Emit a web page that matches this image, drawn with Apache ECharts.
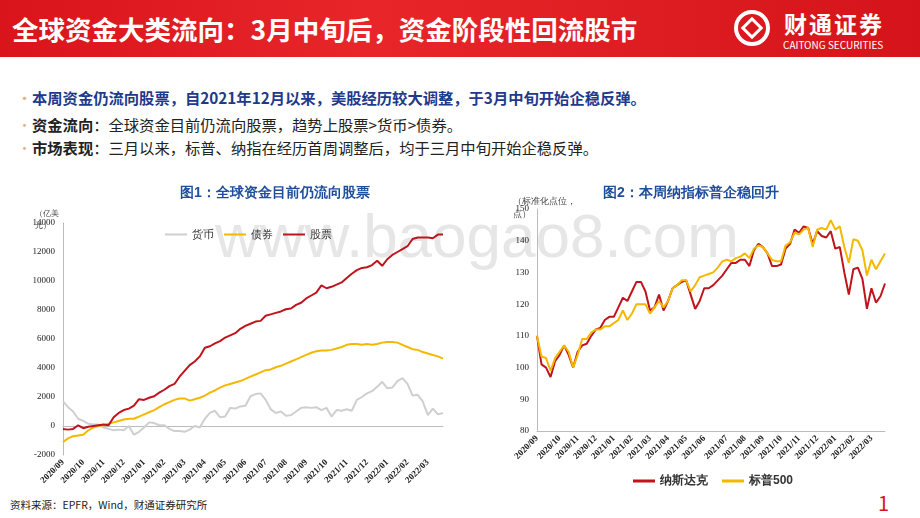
<!DOCTYPE html>
<html><head><meta charset="utf-8">
<script src="https://cdn.jsdelivr.net/npm/echarts@6/dist/echarts.min.js"></script>
<style>
body{margin:0;width:920px;height:518px;overflow:hidden;background:#fff;font-family:"Noto Sans CJK SC",sans-serif;position:relative}
#hdr{position:absolute;left:0;top:0;width:920px;height:57px;background:linear-gradient(90deg,#d9141b,#e8262a 40%,#d4141a)}
#ttl{position:absolute;left:12px;top:9px;color:#fff;font-size:26.5px;font-weight:bold;white-space:nowrap}
#logo{position:absolute;left:732px;top:6px;color:#fff}
.b{position:absolute;left:22px;font-size:15.3px;color:#222;white-space:nowrap}
.b:before{content:"•";color:#e0b080;position:absolute;left:-4px;font-size:13px;top:2px}
.b span{margin-left:10px}
#c{position:absolute;left:0;top:0;width:920px;height:518px}
</style></head><body>
<div id="hdr"><div id="ttl">全球资金大类流向：3月中旬后，资金阶段性回流股市</div>
<div id="logo"><div style="position:absolute;left:2px;top:4px;width:36px;height:36px;border:4px solid #fff;border-radius:50%;box-sizing:border-box"></div>
<div style="position:absolute;left:12px;top:14px;width:16px;height:16px;border:3px solid #fff;transform:rotate(45deg);box-sizing:border-box"></div>
<div style="position:absolute;left:52px;top:0;font-size:23px;font-weight:bold;white-space:nowrap;letter-spacing:2px">财通证券</div>
<div style="position:absolute;left:51px;top:31px;font-size:10px;white-space:nowrap">CAITONG SECURITIES</div></div></div>
<div class="b" style="top:86px;color:#1f3a8a;font-weight:bold"><span>本周资金仍流向股票，自2021年12月以来，美股经历较大调整，于3月中旬开始企稳反弹。</span></div>
<div class="b" style="top:113px"><span><b>资金流向</b>：全球资金目前仍流向股票，趋势上股票>货币>债券。</span></div>
<div class="b" style="top:136px"><span><b>市场表现</b>：三月以来，标普、纳指在经历首周调整后，均于三月中旬开始企稳反弹。</span></div>
<div style="position:absolute;left:10px;top:497px;font-size:10.5px;color:#222">资料来源：EPFR，Wind，财通证券研究所</div>
<div style="position:absolute;left:878px;top:488px;font-size:20px;color:#d9141b">1</div>
<div style="position:absolute;left:215px;top:200px;font-size:62px;color:#e6e6e6;font-family:'Liberation Sans';white-space:nowrap">www.baogao8.com</div>
<div id="c"></div>
<script>
const months=["2020/09","2020/10","2020/11","2020/12","2021/01","2021/02","2021/03","2021/04","2021/05","2021/06","2021/07","2021/08","2021/09","2021/10","2021/11","2021/12","2022/01","2022/02","2022/03"];
const stocks=[-200,-250,-200,50,-150,-50,0,50,100,50,600,900,1100,1200,1400,1850,1800,1950,2050,2300,2500,2750,2900,3400,3800,4200,4450,4800,5400,5500,5700,5850,6100,6250,6400,6700,6900,7050,7200,7250,7600,7700,7800,7900,8050,8100,8350,8500,8800,9000,9200,9700,9500,9600,9750,9900,10200,10500,10750,10900,10950,11100,11400,11050,11500,11800,12000,12200,12400,12900,13000,13000,13000,12950,13200,13200];
const bonds=[-1100,-850,-700,-650,-600,-300,-100,0,50,150,250,350,450,500,500,650,800,950,1100,1300,1500,1650,1800,1900,1900,1750,1850,1950,2100,2300,2450,2650,2800,2900,3000,3100,3250,3400,3550,3700,3850,3900,4050,4150,4300,4450,4600,4750,4900,5050,5150,5200,5200,5250,5350,5450,5600,5650,5650,5600,5650,5600,5650,5750,5800,5800,5750,5600,5450,5300,5250,5100,5000,4900,4800,4650];
const money=[1700,1300,1000,500,350,150,100,100,-100,-200,-300,-250,-300,0,-600,-400,-100,250,200,50,50,-200,-350,-350,-400,-250,0,-100,500,900,1050,600,650,1250,1200,1350,1400,2050,2200,2250,1800,1150,900,1000,700,750,1000,1250,1300,1250,1300,1100,1250,650,1100,1050,1150,1050,1800,2000,2250,2400,2700,3050,2600,2650,3100,3300,2900,2100,2150,1700,750,1200,800,900];
const nasdaq=[110,101,100,97,102,104,107,104,100,105,107,107.5,110,112,112.5,115,116,116,119,122,121,124,127,127,124,118,119,123,118,121,125,126,127,127.5,123,118.5,121,125,125,126,127.5,129,131,133,133,134,134,132,137,139,138,136,132,132,132.5,137.5,139,143.5,142.5,144.5,144,139,143,141.5,141,143,137.5,138,130,123,131,131.5,128,118.5,125,120.5,122.5,126.5];
const sp500=[110,103.5,103,99,103,105,107,105,100,104,109,109,111,112,112,113,113,114,115,118,115,117,120,120,120,117,119,121,119,121,125,126,127.5,127.5,124,126,128.5,129,129.5,130,131.5,133.5,134,133.5,134.5,135,136,134.5,137.5,138.5,138,136,134,133.5,133.5,138.5,139.5,142.5,142,143.5,144,138,143.5,144,143.5,146.5,143.5,144.5,138,133,140.5,140,137,129,134,131,133.5,136];
function cats(n){const a=[];for(let i=0;i<n;i++)a.push(months[Math.floor(i*months.length/n)]);return a;}
const c1=cats(stocks.length), c2=cats(nasdaq.length);
const lab=(arr)=>({rotate:45,fontSize:9,fontFamily:'Liberation Serif',fontWeight:'bold',color:'#222',margin:6,
  interval:(i)=>i===0||arr[i]!==arr[i-1]});
const ylab={fontSize:9,fontFamily:'Liberation Serif',color:'#222',formatter:v=>String(v)};
const ax={lineStyle:{color:'#bbb'}};
const ch=echarts.init(document.getElementById('c'));
ch.setOption({animation:false,
 title:[{text:'图1：全球资金目前仍流向股票',left:270,top:181,textAlign:'center',textStyle:{fontSize:14,fontWeight:'bold',color:'#1f4e9c'}},
        {text:'图2：本周纳指标普企稳回升',left:686,top:181,textAlign:'center',textStyle:{fontSize:14,fontWeight:'bold',color:'#1f4e9c'}},
        {text:'（亿美\n元）',left:30,top:203,textStyle:{fontSize:8,color:'#444',fontWeight:'normal',lineHeight:12}},
        {text:'（标准化点位，\n点）',left:508,top:190,textStyle:{fontSize:9,color:'#444',fontWeight:'normal',lineHeight:13}}],
 legend:[{data:['货币','债券','股票'],left:160,top:224,itemWidth:22,itemHeight:2,icon:'rect',itemGap:10,textStyle:{fontSize:11,color:'#333'}},
         {data:['纳斯达克','标普500'],left:628,top:470,itemWidth:22,itemHeight:3,icon:'rect',itemGap:14,textStyle:{fontSize:12,fontWeight:'bold',color:'#333'}}],
 grid:[{left:63,top:223,width:380,height:232},{left:537,top:209,width:348,height:222}],
 xAxis:[{type:'category',data:c1,gridIndex:0,boundaryGap:false,axisLine:ax,axisTick:{show:false},axisLabel:lab(c1)},
        {type:'category',data:c2,gridIndex:1,boundaryGap:false,axisLine:ax,axisTick:{show:false},axisLabel:lab(c2)}],
 yAxis:[{type:'value',gridIndex:0,min:-2000,max:14000,interval:2000,splitLine:{show:false},axisLine:{show:true,lineStyle:{color:'#bbb'}},axisLabel:ylab},
        {type:'value',gridIndex:1,min:80,max:150,interval:10,splitLine:{show:false},axisLine:{show:true,lineStyle:{color:'#bbb'}},axisLabel:ylab}],
 series:[
  {name:'货币',type:'line',data:money,xAxisIndex:0,yAxisIndex:0,showSymbol:false,lineStyle:{width:2,color:'#cfcfcf'},itemStyle:{color:'#cfcfcf'}},
  {name:'债券',type:'line',data:bonds,xAxisIndex:0,yAxisIndex:0,showSymbol:false,lineStyle:{width:2,color:'#f5b800'},itemStyle:{color:'#f5b800'}},
  {name:'股票',type:'line',data:stocks,xAxisIndex:0,yAxisIndex:0,showSymbol:false,lineStyle:{width:2,color:'#c0141c'},itemStyle:{color:'#c0141c'}},
  {name:'纳斯达克',type:'line',data:nasdaq,xAxisIndex:1,yAxisIndex:1,showSymbol:false,lineStyle:{width:2,color:'#c0141c'},itemStyle:{color:'#c0141c'}},
  {name:'标普500',type:'line',data:sp500,xAxisIndex:1,yAxisIndex:1,showSymbol:false,lineStyle:{width:2,color:'#f5b800'},itemStyle:{color:'#f5b800'}}
 ]});
</script></body></html>
